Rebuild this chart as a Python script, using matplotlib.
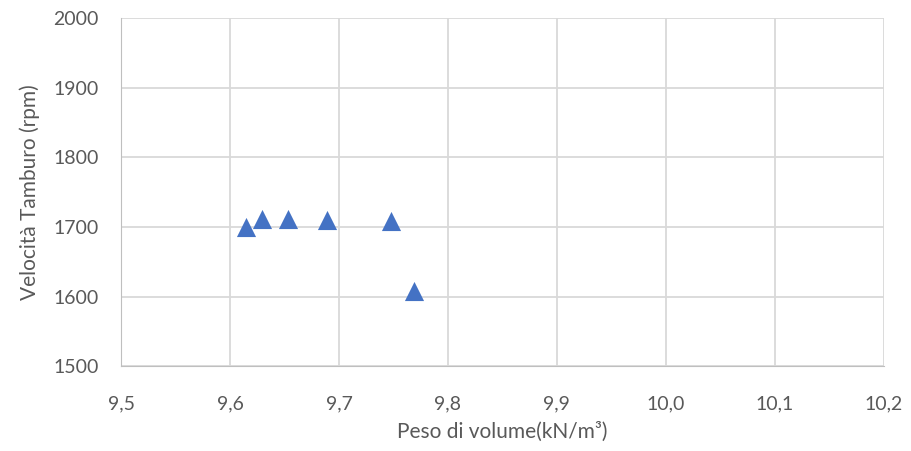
import matplotlib
matplotlib.use("Agg")
import matplotlib.pyplot as plt

peso = [9.615, 9.629, 9.653, 9.689, 9.748, 9.769]
velocita = [1700, 1712, 1711, 1710, 1708, 1608]
xticks = [9.5, 9.6, 9.7, 9.8, 9.9, 10.0, 10.1, 10.2]
yticks = [1500, 1600, 1700, 1800, 1900, 2000]

plt.rcParams['font.family'] = ['Lato', 'DejaVu Sans']
fig = plt.figure(figsize=(9.11, 4.51), dpi=100)
ax = fig.add_axes([0.133, 0.188, 0.837, 0.772])

grid_c = '#d9d9d9'
text_c = '#595959'
ax.scatter(peso, velocita, marker='^', s=190, color='#4472C4', zorder=3, linewidths=0)
ax.set_xlim(9.5, 10.2)
ax.set_ylim(1500, 2000)
ax.set_xticks(xticks)
ax.set_xticklabels([f"{v:.1f}".replace('.', ',') for v in xticks])
ax.set_yticks(yticks)
ax.grid(True, color=grid_c, linewidth=1.3)
for s in ax.spines.values():
    s.set_visible(False)
ax.spines['left'].set_visible(True)
ax.spines['left'].set_color('#bfbfbf')
ax.spines['bottom'].set_visible(True)
ax.spines['bottom'].set_color('#bfbfbf')
ax.tick_params(axis='y', length=0, labelsize=14, colors=text_c, pad=16)
ax.tick_params(axis='x', length=0, labelsize=14, colors=text_c, pad=21)
ax.set_xlabel('Peso di volume(kN/m³)', fontsize=15, color=text_c, labelpad=7)
ax.set_ylabel('Velocità Tamburo (rpm)', fontsize=15, color=text_c, labelpad=10)
ax.set_axisbelow(True)
fig.savefig('out.png', dpi=100)
